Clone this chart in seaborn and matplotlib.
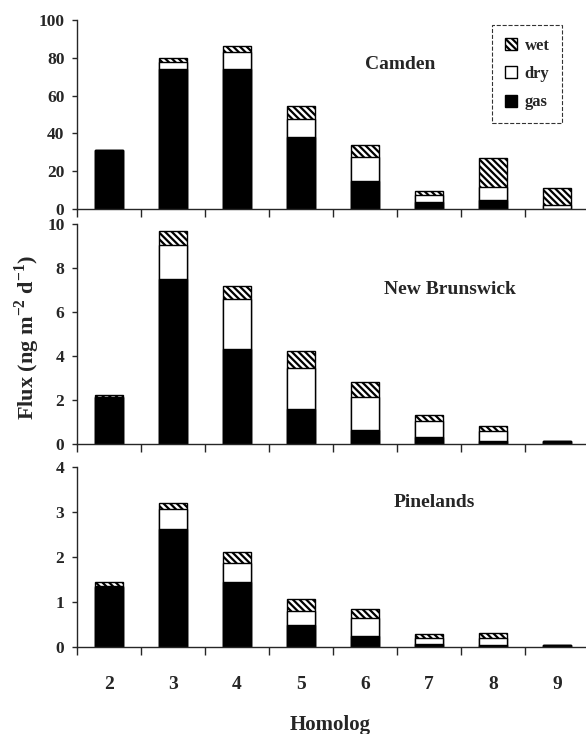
import numpy as np
import pandas as pd
import matplotlib
matplotlib.use('Agg')
import matplotlib.pyplot as plt
import seaborn as sns
from matplotlib.patches import Patch

# ---- data ----
homologs = ['2', '3', '4', '5', '6', '7', '8', '9']

camden_gas = [31, 74, 74, 38, 15, 3.5, 4.5, 0]
camden_dry = [0, 4, 9, 9.5, 12.5, 4, 7, 2]
camden_wet = [0, 2, 3.5, 7, 6.5, 2, 15.5, 9]

nb_gas = [2.12, 7.5, 4.3, 1.58, 0.65, 0.32, 0.15, 0.12]
nb_dry = [0.02, 1.55, 2.3, 1.86, 1.5, 0.73, 0.45, 0]
nb_wet = [0.1, 0.65, 0.6, 0.77, 0.65, 0.27, 0.22, 0]

pine_gas = [1.34, 2.62, 1.44, 0.5, 0.24, 0.07, 0.05, 0.05]
pine_dry = [0.02, 0.44, 0.43, 0.3, 0.4, 0.12, 0.16, 0]
pine_wet = [0.08, 0.15, 0.24, 0.27, 0.21, 0.1, 0.11, 0]

site_names = ['Camden', 'New Brunswick', 'Pinelands']
y_ticks = [[0, 20, 40, 60, 80, 100], [0, 2, 4, 6, 8, 10], [0, 1, 2, 3, 4]]
legend_labels = ['wet', 'dry', 'gas']

sns.set_style('ticks')
plt.rcParams['font.family'] = ['Liberation Serif', 'DejaVu Serif']
plt.rcParams['font.weight'] = 'bold'
plt.rcParams['mathtext.fontset'] = 'custom'
plt.rcParams['mathtext.rm'] = 'Liberation Serif:bold'
plt.rcParams['mathtext.bf'] = 'Liberation Serif:bold'
plt.rcParams['hatch.color'] = 'black'
plt.rcParams['hatch.linewidth'] = 1.6

HATCH = '\\' * 5

fig = plt.figure(figsize=(5.86, 7.34), dpi=100)
L = 77 / 586
W = 1 - L
axes = [fig.add_axes([L, 1 - 209 / 734, W, 189 / 734]),
        fig.add_axes([L, 1 - 444 / 734, W, 220 / 734]),
        fig.add_axes([L, 1 - 647 / 734, W, 180 / 734])]

sites = [(camden_gas, camden_dry, camden_wet),
         (nb_gas, nb_dry, nb_wet),
         (pine_gas, pine_dry, pine_wet)]
title_pos = [(4.55, 76.6), (5.33, 7.04), (5.08, 3.2)]

for i, (ax, (gas, dry, wet)) in enumerate(zip(axes, sites)):
    df = pd.DataFrame({'homolog': homologs, 'gas': gas, 'dry': dry, 'wet': wet})
    df['gas_dry'] = df['gas'] + df['dry']
    df['total'] = df['gas_dry'] + df['wet']
    bw = 0.43
    sns.barplot(data=df, x='homolog', y='total', order=homologs, ax=ax,
                color='white', edgecolor='black', linewidth=1.0,
                hatch=HATCH, width=bw, saturation=1, errorbar=None)
    sns.barplot(data=df, x='homolog', y='gas_dry', order=homologs, ax=ax,
                color='white', edgecolor='black', linewidth=1.0,
                width=bw, saturation=1, errorbar=None)
    sns.barplot(data=df, x='homolog', y='gas', order=homologs, ax=ax,
                color='black', edgecolor='black', linewidth=1.0,
                width=bw, saturation=1, errorbar=None)
    ax.set_xlim(-0.5, 7.45)
    ax.set_ylim(0, y_ticks[i][-1])
    ax.set_yticks(y_ticks[i])
    ax.set_yticklabels([str(t) for t in y_ticks[i]], fontsize=12.5, fontweight='bold')
    ax.set_xticks(np.arange(-0.5, 7.5, 1))
    ax.set_xticklabels([])
    ax.tick_params(axis='x', which='major', direction='out', length=5.5, width=1)
    ax.tick_params(axis='y', direction='out', length=3.5, width=1, pad=5.5)
    ax.set_xlabel('')
    ax.set_ylabel('')
    sns.despine(ax=ax)
    for s in ['left', 'bottom']:
        ax.spines[s].set_linewidth(1.0)
    ax.patch.set_alpha(0)
    tx, ty = title_pos[i]
    ax.text(tx, ty, site_names[i], ha='center', va='center', fontsize=14,
            fontweight='bold')

axes[2].set_xticks(range(len(homologs)), minor=True)
axes[2].set_xticklabels(homologs, minor=True, fontsize=14, fontweight='bold')
axes[2].tick_params(axis='x', which='minor', length=0, pad=21)

handles = [Patch(facecolor='white', edgecolor='black', hatch=HATCH, label=legend_labels[0]),
           Patch(facecolor='white', edgecolor='black', label=legend_labels[1]),
           Patch(facecolor='black', edgecolor='black', label=legend_labels[2])]
leg = fig.legend(handles=handles, loc='upper right',
                 bbox_to_anchor=(562 / 586, 1 - 25 / 734), borderaxespad=0,
                 frameon=True, fancybox=False, handlelength=0.75, handleheight=0.75,
                 handletextpad=0.45, labelspacing=0.75, borderpad=0.75,
                 prop={'size': 12, 'weight': 'bold'})
fr = leg.get_frame()
fr.set_linestyle('--')
fr.set_linewidth(0.8)
fr.set_edgecolor('black')

fig.text(27.5 / 586, 1 - 337 / 734, r'Flux (ng m$^{\mathbf{-2}}$ d$^{\mathbf{-1}}$)',
         rotation=90, ha='center', va='center', fontsize=16, fontweight='bold')
fig.text(330 / 586, 1 - 725 / 734, 'Homolog', ha='center', va='center',
         fontsize=15, fontweight='bold')

fig.savefig('out.png', dpi=100)
